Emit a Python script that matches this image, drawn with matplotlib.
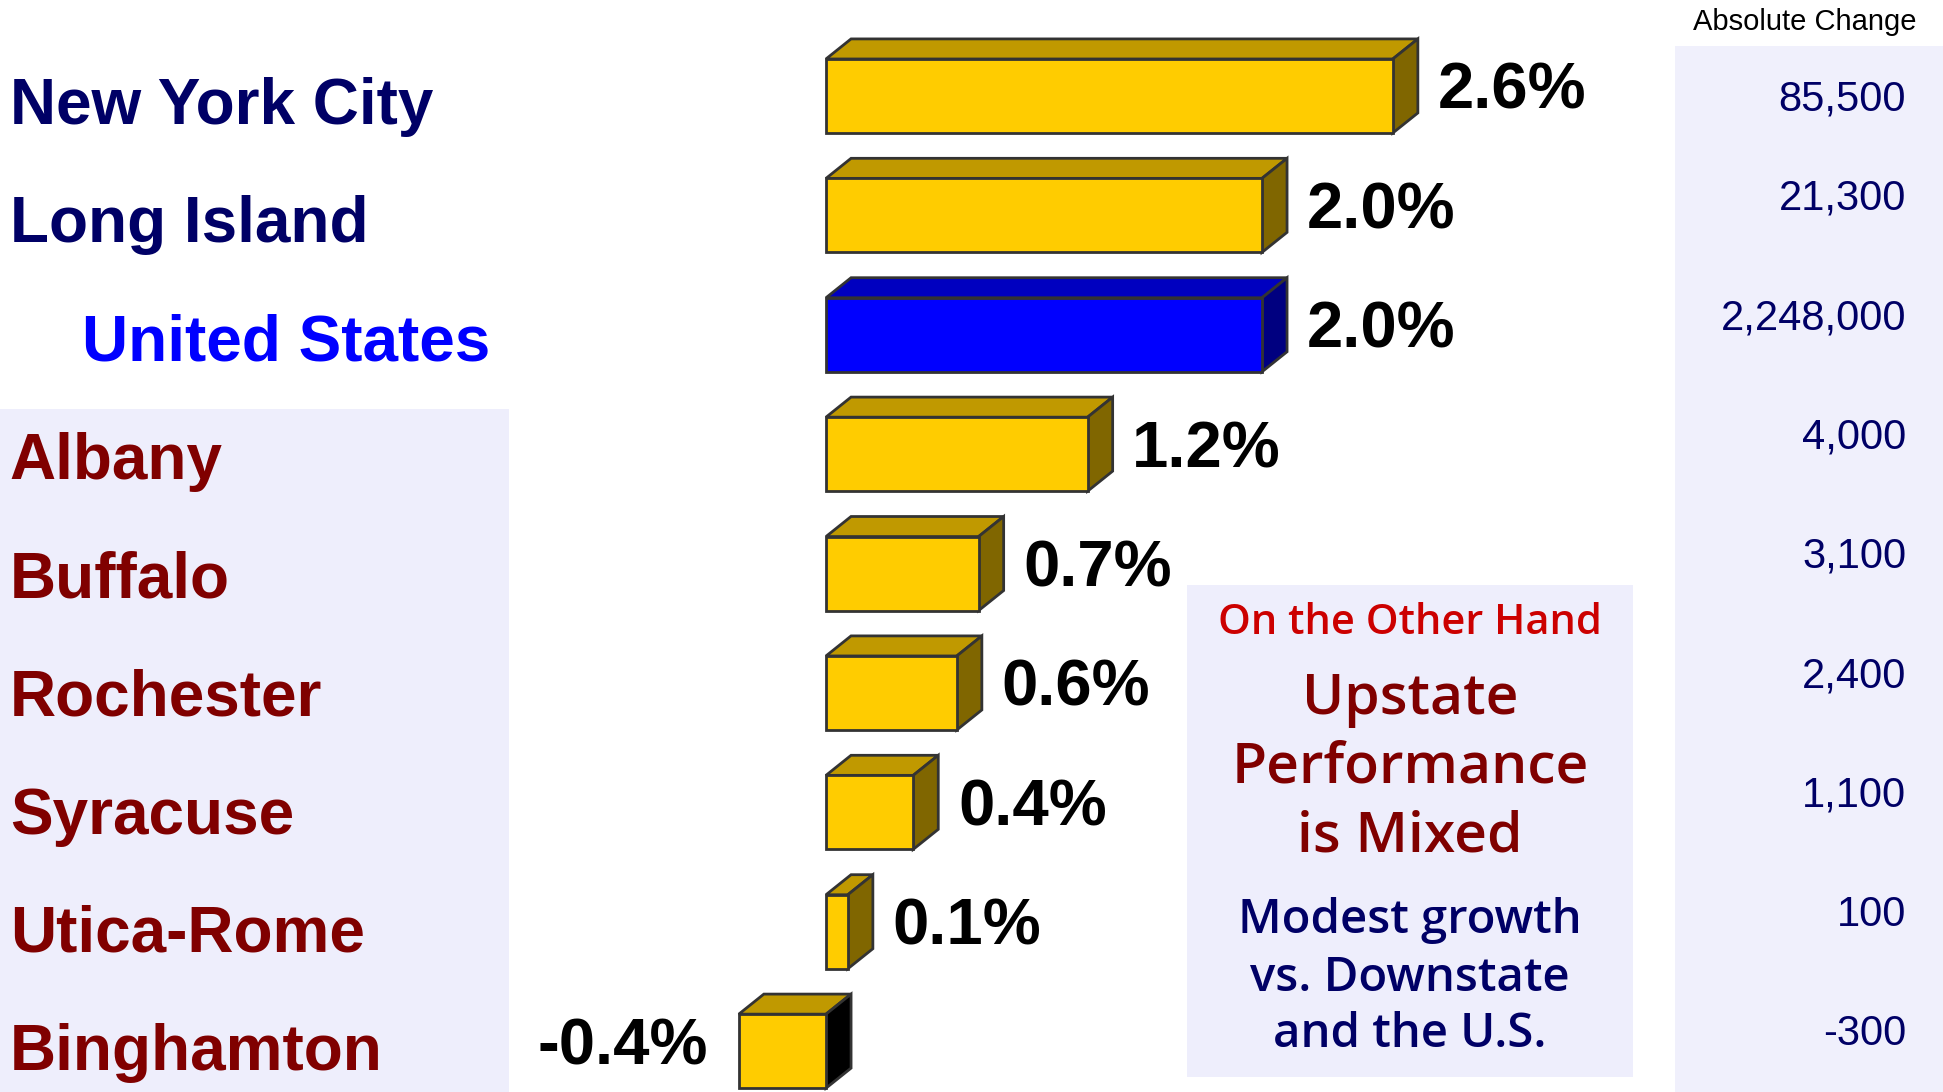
import matplotlib
matplotlib.use('Agg')
import matplotlib.pyplot as plt
from matplotlib.patches import Polygon, Rectangle

# data
regions = ['New York City', 'Long Island', 'United States', 'Albany', 'Buffalo',
           'Rochester', 'Syracuse', 'Utica-Rome', 'Binghamton']
pct_change = [2.6, 2.0, 2.0, 1.2, 0.7, 0.6, 0.4, 0.1, -0.4]
abs_change = ['85,500', '21,300', '2,248,000', '4,000', '3,100', '2,400', '1,100', '100', '-300']
label_colors = ['#000066', '#000066', '#0000FF', '#800000', '#800000',
                '#800000', '#800000', '#800000', '#800000']

W, H = 1943, 1092
fig = plt.figure(figsize=(W / 100, H / 100), dpi=100)
ax = fig.add_axes([0, 0, 1, 1])
ax.set_xlim(-3.789, 5.124)
ax.set_ylim(8.342, -0.804)
ax.axis('off')

bold = {'family': ['Liberation Sans', 'DejaVu Sans'], 'weight': 'bold'}
reg = {'family': ['Liberation Sans', 'DejaVu Sans']}
hum = {'family': ['Open Sans', 'DejaVu Sans'], 'weight': 'semibold'}

# background panels
ax.add_patch(Rectangle((0, 0), 0.262, 0.6255, transform=ax.transAxes,
                       facecolor='#EEEEFC', edgecolor='none', zorder=0))
ax.add_patch(Rectangle((0.862, 0), 0.138, 0.958, transform=ax.transAxes,
                       facecolor='#F0F0FC', edgecolor='none', zorder=0))
ax.add_patch(Rectangle((0.611, 0.0137), 0.2295, 0.4506, transform=ax.transAxes,
                       facecolor='#EEEEFC', edgecolor='none', zorder=0))

h = 0.62     # front face height (rows)
dx = 0.115   # depth in x (%)
dy = 0.168   # depth in y (rows)
edge = '#333333'

for i, v in enumerate(pct_change):
    if regions[i] == 'United States':
        front, top, side = '#0000FF', '#0000C0', '#000080'
    else:
        front, top, side = '#FFCC00', '#C09900', '#806600'
    if v < 0:
        side = '#000000'
    x0, x1 = min(0, v), max(0, v)
    y_top, y_bot = i - h / 2, i + h / 2
    ax.add_patch(Polygon([(x0, y_top), (x1, y_top), (x1 + dx, y_top - dy), (x0 + dx, y_top - dy)],
                         closed=True, facecolor=top, edgecolor=edge, lw=2, zorder=2))
    ax.add_patch(Polygon([(x1, y_top), (x1 + dx, y_top - dy), (x1 + dx, y_bot - dy), (x1, y_bot)],
                         closed=True, facecolor=side, edgecolor=edge, lw=2, zorder=2))
    ax.add_patch(Rectangle((x0, y_top), x1 - x0, h, facecolor=front, edgecolor=edge, lw=2, zorder=3))

    ymid = i - dy / 2 + 0.05
    if v >= 0:
        ax.text(x1 + dx + 0.09, ymid, f'{v:.1f}%', ha='left', va='center',
                fontsize=47, color='black', **bold)
    else:
        ax.text(x0 - 0.14, ymid, f'{v:.1f}%', ha='right', va='center',
                fontsize=47, color='black', **bold)

    # category labels
    lx = 0.042 if regions[i] == 'United States' else 0.005
    ax.text(lx, i + 0.09 - 0.009 * i, regions[i], transform=ax.get_yaxis_transform(),
            ha='left', va='center', fontsize=46, color=label_colors[i], **bold)

    # absolute change column
    off = 0.03 if i == 0 else -0.14
    ax.text(0.981, i + off, abs_change[i], transform=ax.get_yaxis_transform(),
            ha='right', va='center', fontsize=30, color='#000066', **reg)

ax.text(0.929, 0.98, 'Absolute Change', transform=ax.transAxes, ha='center', va='center',
        fontsize=21, color='black', **reg)

# annotation
cx = 0.7257
ax.text(cx, 0.4295, 'On the Other Hand', transform=ax.transAxes, ha='center', va='center',
        fontsize=30, color='#CC0000', **hum)
for txt, yy in zip(['Upstate', 'Performance', 'is Mixed'], [0.359, 0.2965, 0.2335]):
    ax.text(cx, yy, txt, transform=ax.transAxes, ha='center', va='center',
            fontsize=41, color='#800000', **hum)
for txt, yy in zip(['Modest growth', 'vs. Downstate', 'and the U.S.'], [0.1575, 0.1035, 0.053]):
    ax.text(cx, yy, txt, transform=ax.transAxes, ha='center', va='center',
            fontsize=34, color='#000066', **hum)

fig.savefig('out.png', dpi=100)
